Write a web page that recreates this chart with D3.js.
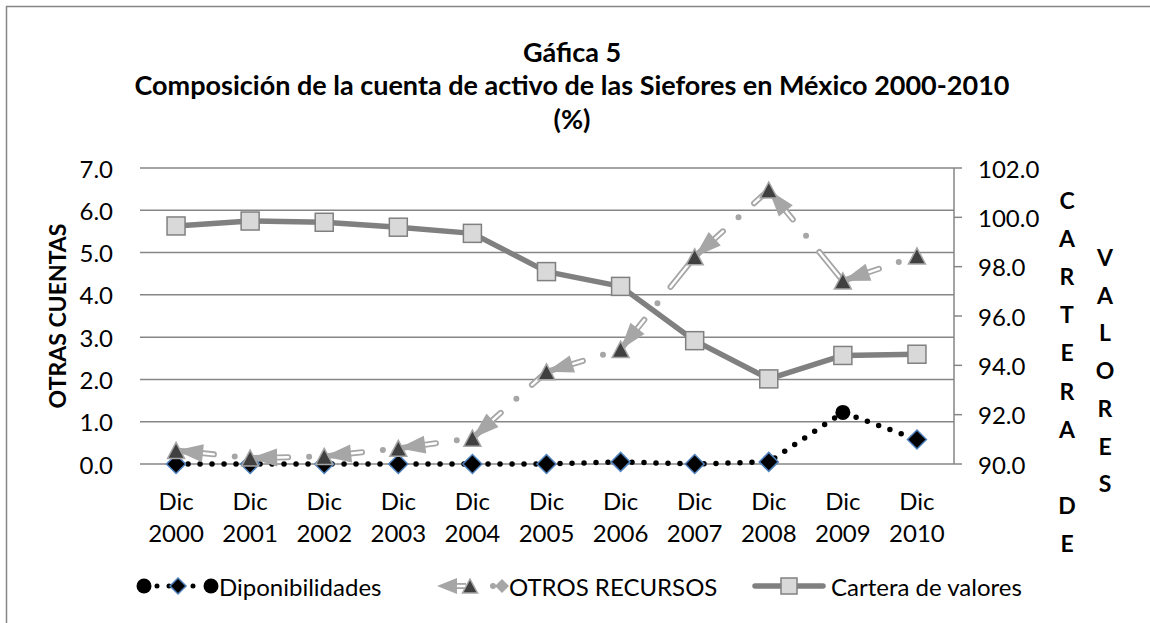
<!DOCTYPE html>
<html>
<head>
<meta charset="utf-8">
<script src="https://cdn.jsdelivr.net/npm/d3@7"></script>
<style>
  body { margin: 0; background: #fff; }
  svg text { font-family: Lato, "Open Sans", sans-serif; fill: #000; }
</style>
</head>
<body>
<svg id="chart" width="1150" height="623"></svg>
<script>
  // data
  const years = ["2000", "2001", "2002", "2003", "2004", "2005", "2006", "2007", "2008", "2009", "2010"];
  const disponibilidades = [0.0, 0.0, 0.0, 0.0, 0.0, 0.0, 0.05, 0.0, 0.05, 1.22, 0.58];
  const otrosRecursos = [0.32, 0.14, 0.18, 0.37, 0.61, 2.18, 2.71, 4.9, 6.48, 4.33, 4.92];
  const carteraValores = [99.65, 99.85, 99.8, 99.6, 99.35, 97.8, 97.2, 95.0, 93.45, 94.4, 94.45];
  const leftTicks = [0, 1, 2, 3, 4, 5, 6, 7];
  const rightTicks = [90, 92, 94, 96, 98, 100, 102];
  const titleLines = ["Gáfica 5", "Composición de la cuenta de activo de las Siefores en México 2000-2010", "(%)"];

  const svg = d3.select("#chart");
  const grid = "#868686";
  const lightGray = "#a6a6a6";
  const fs = 24;

  // chart frame (right / bottom edges fall outside the picture)
  svg.append("rect")
    .attr("x", 6.5).attr("y", 6.5)
    .attr("width", 1160).attr("height", 640)
    .attr("fill", "none").attr("stroke", grid).attr("stroke-width", 1.5);

  const x = d3.scalePoint().domain(years).range([139, 954]).padding(0.5);
  const yL = d3.scaleLinear().domain([0, 7]).range([464, 168]);
  const yR = d3.scaleLinear().domain([90, 102]).range([464, 168]);

  // title
  svg.append("g").selectAll("text")
    .data(titleLines)
    .enter().append("text")
      .attr("x", 572)
      .attr("y", (d, i) => 51 + i * 33.5)
      .attr("text-anchor", "middle")
      .attr("dominant-baseline", "central")
      .attr("font-size", 27)
      .attr("font-weight", "bold")
      .text(d => d);

  // gridlines
  svg.append("g").selectAll("line")
    .data(leftTicks)
    .enter().append("line")
      .attr("x1", 140).attr("x2", 954)
      .attr("y1", d => yL(d)).attr("y2", d => yL(d))
      .attr("stroke", grid).attr("stroke-width", 1.5);

  // left tick labels
  svg.append("g").selectAll("text")
    .data(leftTicks)
    .enter().append("text")
      .attr("x", 113).attr("y", d => yL(d))
      .attr("text-anchor", "end")
      .attr("dominant-baseline", "central")
      .attr("font-size", fs)
      .text(d => d.toFixed(1));

  svg.append("text")
    .attr("transform", "translate(57,316) rotate(-90)")
    .attr("text-anchor", "middle")
    .attr("dominant-baseline", "central")
    .attr("font-size", 23)
    .attr("font-weight", "bold")
    .text("OTRAS CUENTAS");

  // right axis
  const rAxis = svg.append("g");
  rAxis.append("line")
    .attr("x1", 954).attr("x2", 954)
    .attr("y1", yR(102)).attr("y2", yR(90))
    .attr("stroke", grid).attr("stroke-width", 1.5);
  rAxis.selectAll("line.tick")
    .data(rightTicks)
    .enter().append("line")
      .attr("class", "tick")
      .attr("x1", 954).attr("x2", 962)
      .attr("y1", d => yR(d)).attr("y2", d => yR(d))
      .attr("stroke", grid).attr("stroke-width", 1.5);
  rAxis.selectAll("text")
    .data(rightTicks)
    .enter().append("text")
      .attr("x", 978).attr("y", d => yR(d))
      .attr("dominant-baseline", "central")
      .attr("font-size", fs)
      .text(d => d.toFixed(1));

  // stacked right title
  const col1 = ["C", "A", "R", "T", "E", "R", "A", "", "D", "E"];
  const col2 = ["V", "A", "L", "O", "R", "E", "S"];
  svg.append("g").selectAll("text")
    .data(col1)
    .enter().append("text")
      .attr("x", 1067).attr("y", (d, i) => 200 + i * 38.1)
      .attr("text-anchor", "middle")
      .attr("dominant-baseline", "central")
      .attr("font-size", 23).attr("font-weight", "bold")
      .text(d => d);
  svg.append("g").selectAll("text")
    .data(col2)
    .enter().append("text")
      .attr("x", 1105).attr("y", (d, i) => 257 + i * 37.7)
      .attr("text-anchor", "middle")
      .attr("dominant-baseline", "central")
      .attr("font-size", 23).attr("font-weight", "bold")
      .text(d => d);

  // category labels
  const xl = svg.append("g").selectAll("g")
    .data(years)
    .enter().append("g");
  xl.append("text")
    .attr("x", d => x(d)).attr("y", 500)
    .attr("text-anchor", "middle").attr("dominant-baseline", "central")
    .attr("font-size", fs)
    .text("Dic");
  xl.append("text")
    .attr("x", d => x(d)).attr("y", 532)
    .attr("text-anchor", "middle").attr("dominant-baseline", "central")
    .attr("font-size", fs)
    .text(d => d);

  // marker shapes
  function diamondPath(cx, cy, r) {
    return `M${cx},${cy - r}L${cx + r},${cy}L${cx},${cy + r}L${cx - r},${cy}Z`;
  }
  function trianglePath(cx, cy, w, h) {
    return `M${cx},${cy - h / 2}L${cx + w / 2},${cy + h / 2}L${cx - w / 2},${cy + h / 2}Z`;
  }
  function arrowPath(tx, ty, ang, len, hw) {
    // arrow with tip at (tx,ty) whose body lies in direction ang
    const bx = tx + Math.cos(ang) * len, by = ty + Math.sin(ang) * len;
    const px = -Math.sin(ang) * hw, py = Math.cos(ang) * hw;
    return `M${tx},${ty}L${bx + px},${by + py}L${bx - px},${by - py}Z`;
  }

  // Disponibilidades
  const dispPts = years.map((d, i) => [x(d), yL(disponibilidades[i])]);
  svg.append("path")
    .attr("d", d3.line()(dispPts))
    .attr("fill", "none").attr("stroke", "#000")
    .attr("stroke-width", 5.5).attr("stroke-linecap", "round")
    .attr("stroke-dasharray", "0 12");
  svg.append("g").selectAll("path")
    .data(dispPts.filter((p, i) => i !== 9))
    .enter().append("path")
      .attr("d", p => diamondPath(p[0], p[1], 9.5))
      .attr("fill", "#000").attr("stroke", "#4f81bd").attr("stroke-width", 1.5);
  svg.append("circle")
    .attr("cx", dispPts[9][0]).attr("cy", dispPts[9][1]).attr("r", 7.5)
    .attr("fill", "#000");

  // OTROS RECURSOS
  const otrosPts = years.map((d, i) => [x(d), yL(otrosRecursos[i])]);
  const otros = svg.append("g");
  for (let i = 0; i < otrosPts.length - 1; i++) {
    const seg = [otrosPts[i], otrosPts[i + 1]];
    otros.append("path")
      .attr("d", d3.line()(seg))
      .attr("fill", "none").attr("stroke", lightGray)
      .attr("stroke-width", 6).attr("stroke-linecap", "round")
      .attr("stroke-dasharray", "38 21 0 21");
    otros.append("path")
      .attr("d", d3.line()(seg))
      .attr("fill", "none").attr("stroke", "#fff")
      .attr("stroke-width", 2.4).attr("stroke-linecap", "round")
      .attr("stroke-dasharray", "38 42");
    const ang = Math.atan2(seg[1][1] - seg[0][1], seg[1][0] - seg[0][0]);
    otros.append("path")
      .attr("d", arrowPath(seg[0][0], seg[0][1], ang, 27, 9))
      .attr("fill", lightGray);
  }
  otros.selectAll("path.mk")
    .data(otrosPts)
    .enter().append("path")
      .attr("class", "mk")
      .attr("d", p => trianglePath(p[0], p[1], 17, 16))
      .attr("fill", "#404040").attr("stroke", lightGray).attr("stroke-width", 1.5);

  // Cartera de valores
  const cartPts = years.map((d, i) => [x(d), yR(carteraValores[i])]);
  svg.append("path")
    .attr("d", d3.line()(cartPts))
    .attr("fill", "none").attr("stroke", "#808080")
    .attr("stroke-width", 5.5).attr("stroke-linejoin", "round");
  svg.append("g").selectAll("rect")
    .data(cartPts)
    .enter().append("rect")
      .attr("x", p => p[0] - 9).attr("y", p => p[1] - 9)
      .attr("width", 18).attr("height", 18)
      .attr("fill", "#d9d9d9").attr("stroke", "#808080").attr("stroke-width", 1.5);

  // legend
  const ly = 586;
  const lg = svg.append("g");
  // Disponibilidades
  lg.append("line")
    .attr("x1", 157).attr("x2", 200).attr("y1", ly).attr("y2", ly)
    .attr("stroke", "#000").attr("stroke-width", 5).attr("stroke-linecap", "round")
    .attr("stroke-dasharray", "0 12");
  lg.append("circle").attr("cx", 144).attr("cy", ly).attr("r", 7.5).attr("fill", "#000");
  lg.append("path").attr("d", diamondPath(178, ly, 8))
    .attr("fill", "#000").attr("stroke", "#4f81bd").attr("stroke-width", 1.5);
  lg.append("circle").attr("cx", 211).attr("cy", ly).attr("r", 7.5).attr("fill", "#000");
  lg.append("text").attr("x", 219).attr("y", ly).attr("dominant-baseline", "central")
    .attr("font-size", fs).text("Diponibilidades");
  // OTROS RECURSOS
  lg.append("line")
    .attr("x1", 450).attr("x2", 466).attr("y1", ly).attr("y2", ly)
    .attr("stroke", lightGray).attr("stroke-width", 6);
  lg.append("line")
    .attr("x1", 450).attr("x2", 466).attr("y1", ly).attr("y2", ly)
    .attr("stroke", "#fff").attr("stroke-width", 2.4);
  lg.append("path").attr("d", arrowPath(437, ly, 0, 20, 8)).attr("fill", lightGray);
  lg.append("path").attr("d", trianglePath(470, ly, 15, 14))
    .attr("fill", "#404040").attr("stroke", lightGray).attr("stroke-width", 1.5);
  lg.append("circle").attr("cx", 493).attr("cy", ly).attr("r", 3).attr("fill", lightGray);
  lg.append("path").attr("d", diamondPath(502, ly, 7)).attr("fill", lightGray);
  lg.append("text").attr("x", 509).attr("y", ly).attr("dominant-baseline", "central")
    .attr("font-size", fs).text("OTROS RECURSOS");
  // Cartera de valores
  lg.append("line")
    .attr("x1", 755).attr("x2", 823).attr("y1", ly).attr("y2", ly)
    .attr("stroke", "#808080").attr("stroke-width", 5.5).attr("stroke-linecap", "round");
  lg.append("rect").attr("x", 781).attr("y", ly - 8).attr("width", 16).attr("height", 16)
    .attr("fill", "#d9d9d9").attr("stroke", "#808080").attr("stroke-width", 1.5);
  lg.append("text").attr("x", 831).attr("y", ly).attr("dominant-baseline", "central")
    .attr("font-size", fs).text("Cartera de valores");
</script>
</body>
</html>
